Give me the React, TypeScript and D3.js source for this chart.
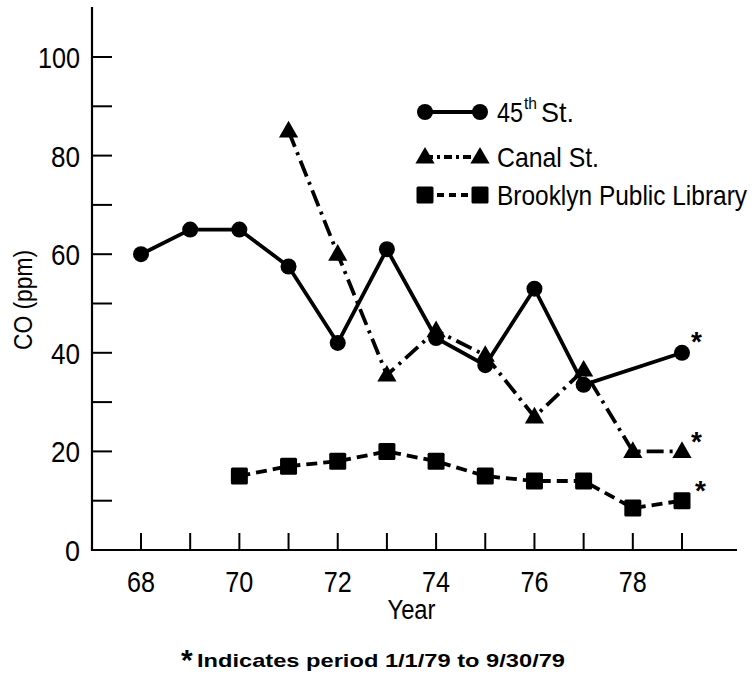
import React from "react";
import * as d3 from "d3";

// CO concentrations by year (ppm), null = no measurement
const years = [68, 69, 70, 71, 72, 73, 74, 75, 76, 77, 78, 79];
const st45 = [60, 65, 65, 57.5, 42, 61, 43, 37.5, 53, 33.5, null, 40];
const canal = [null, null, null, 85, 60, 35.5, 44.5, 39.5, 27, 36.5, 20, 20];
const brooklyn = [null, null, 15, 17, 18, 20, 18, 15, 14, 14, 8.5, 10];
const yTicks = [0, 20, 40, 60, 80, 100];
const yMinor = [10, 30, 50, 70, 90];
const xLabels = [68, 70, 72, 74, 76, 78];

const FONT = "'Liberation Sans', Arial, sans-serif";

const W = 753;
const H = 678;

const x = d3.scaleLinear().domain([68, 79]).range([141, 682]);
const y = d3.scaleLinear().domain([0, 100]).range([550, 57]);

type Pt = { yr: number; v: number };
const toPts = (vals: (number | null)[]): Pt[] =>
  years.map((yr, i) => ({ yr, v: vals[i] as number })).filter((d) => d.v != null);

const line = d3
  .line<Pt>()
  .x((d) => x(d.yr))
  .y((d) => y(d.v));

const triangle = d3.symbol().type(d3.symbolTriangle).size(160)();

function Marker({ kind, cx, cy }: { kind: string; cx: number; cy: number }) {
  if (kind === "circle") return <circle cx={cx} cy={cy} r={8} fill="#000" />;
  if (kind === "triangle")
    return <path d={triangle as string} transform={`translate(${cx},${cy + 1})`} fill="#000" />;
  return <rect x={cx - 8.5} y={cy - 8.5} width={17} height={17} rx={1.5} fill="#000" />;
}

const series = [
  { name: "45th", vals: st45, kind: "circle", dash: "none", legDash: undefined, star: [9, -2] },
  { name: "Canal St.", vals: canal, kind: "triangle", dash: "17 6 3 6", legDash: "8 4 3 4", star: [9, 0] },
  { name: "Brooklyn Public Library", vals: brooklyn, kind: "square", dash: "11 6", legDash: "7 5", star: [13, -1] },
];

export default function App() {
  const axisY0 = 550;
  const axisX0 = 92;
  return (
    <svg
      width={W}
      height={H}
      style={{ position: "absolute", left: 0, top: 0, background: "#fff" }}
      fontFamily={FONT}
    >
      {/* axes */}
      <line x1={axisX0} y1={7} x2={axisX0} y2={axisY0 + 1} stroke="#000" strokeWidth={2.2} />
      <line x1={axisX0 - 1} y1={axisY0} x2={737} y2={axisY0} stroke="#000" strokeWidth={2.2} />
      {yTicks.concat(yMinor).filter((t) => t > 0).map((t) => (
        <line key={"yt" + t} x1={axisX0} x2={axisX0 + 20} y1={y(t)} y2={y(t)} stroke="#000" strokeWidth={2} />
      ))}
      {yTicks.map((t) => (
        <text key={"yl" + t} x={80} y={y(t) + 11} textAnchor="end" fontSize={30} textLength={t === 100 ? 42 : t === 0 ? 15 : 29} lengthAdjust="spacingAndGlyphs">
          {t}
        </text>
      ))}
      {years.map((yr) => (
        <line key={"xt" + yr} x1={x(yr)} x2={x(yr)} y1={axisY0} y2={axisY0 - 17} stroke="#000" strokeWidth={2} />
      ))}
      {xLabels.map((yr) => (
        <text key={"xl" + yr} x={x(yr)} y={592} textAnchor="middle" fontSize={30} textLength={28} lengthAdjust="spacingAndGlyphs">
          {yr}
        </text>
      ))}
      <text x={x(73.5)} y={619} textAnchor="middle" fontSize={27} textLength={48} lengthAdjust="spacingAndGlyphs">
        Year
      </text>
      <text transform="translate(32,300) rotate(-90)" textAnchor="middle" fontSize={26} textLength={100} lengthAdjust="spacingAndGlyphs">
        CO (ppm)
      </text>

      {/* series */}
      {series.map((s) => {
        const pts = toPts(s.vals);
        const last = pts[pts.length - 1];
        return (
          <g key={s.name}>
            <path d={line(pts) as string} fill="none" stroke="#000" strokeWidth={3.8} strokeDasharray={s.dash} />
            {pts.map((p) => (
              <Marker key={p.yr} kind={s.kind} cx={x(p.yr)} cy={y(p.v)} />
            ))}
            <text x={x(last.yr) + s.star[0]} y={y(last.v) + s.star[1]} fontSize={28} fontWeight="bold">
              *
            </text>
          </g>
        );
      })}

      {/* legend */}
      {series.map((s, i) => {
        const ly = [112, 157, 195][i];
        return (
          <g key={"lg" + s.name}>
            <line x1={425} x2={480} y1={ly} y2={ly} stroke="#000" strokeWidth={3.8} strokeDasharray={s.legDash} />
            <Marker kind={s.kind} cx={425} cy={ly} />
            <Marker kind={s.kind} cx={480} cy={ly} />
            {i === 0 ? (
              <g>
                <text x={497} y={ly + 10} fontSize={28} textLength={26} lengthAdjust="spacingAndGlyphs">45</text>
                <text x={524} y={ly - 3} fontSize={16} textLength={13} lengthAdjust="spacingAndGlyphs">th</text>
                <text x={541} y={ly + 10} fontSize={28} textLength={33} lengthAdjust="spacingAndGlyphs">St.</text>
              </g>
            ) : (
              <text x={497} y={ly + 10} fontSize={28} textLength={i === 1 ? 102 : 250} lengthAdjust="spacingAndGlyphs">
                {s.name}
              </text>
            )}
          </g>
        );
      })}

      {/* footnote */}
      <text x={181} y={670} fontSize={30} fontWeight="bold">*</text>
      <text x={197} y={667} fontSize={19} fontWeight="bold" textLength={368} lengthAdjust="spacingAndGlyphs">
        Indicates period 1/1/79 to 9/30/79
      </text>
    </svg>
  );
}
